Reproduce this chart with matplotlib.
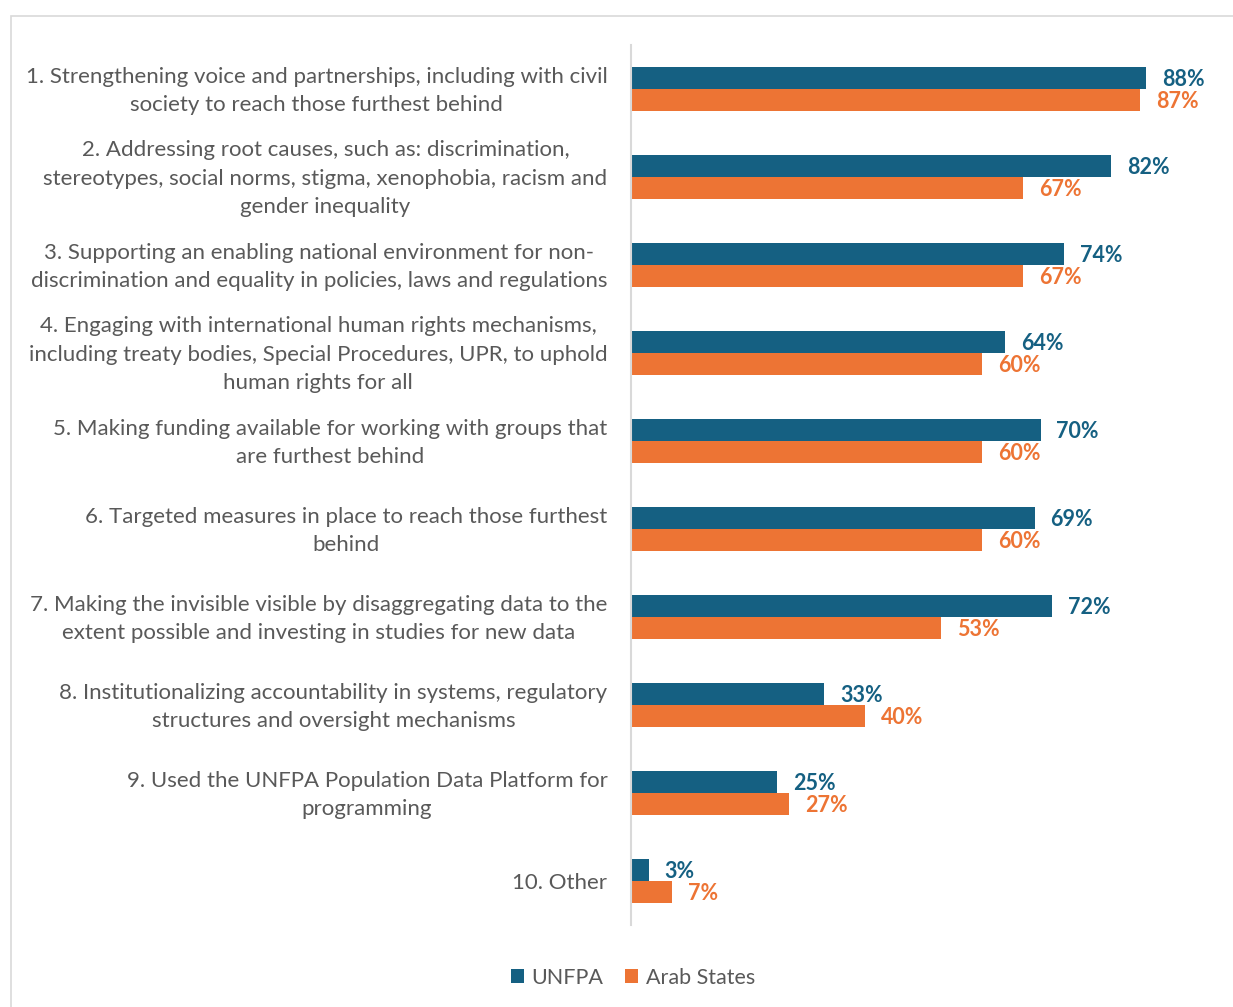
import matplotlib
matplotlib.use("Agg")
import matplotlib.pyplot as plt
from matplotlib.patches import Rectangle

categories = [
    "1. Strengthening voice and partnerships, including with civil\nsociety to reach those furthest behind",
    "2. Addressing root causes, such as: discrimination,\nstereotypes, social norms, stigma, xenophobia, racism and\ngender inequality",
    "3. Supporting an enabling national environment for non-\ndiscrimination and equality in policies, laws and regulations",
    "4. Engaging with international human rights mechanisms,\nincluding treaty bodies, Special Procedures, UPR, to uphold\nhuman rights for all",
    "5. Making funding available for working with groups that\nare furthest behind",
    "6. Targeted measures in place to reach those furthest\nbehind",
    "7. Making the invisible visible by disaggregating data to the\nextent possible and investing in studies for new data",
    "8. Institutionalizing accountability in systems, regulatory\nstructures and oversight mechanisms",
    "9. Used the UNFPA Population Data Platform for\nprogramming",
    "10. Other",
]
unfpa = [88, 82, 74, 64, 70, 69, 72, 33, 25, 3]
arab = [87, 67, 67, 60, 60, 60, 53, 40, 27, 7]
series_names = ["UNFPA", "Arab States"]

c_unfpa = "#156082"
c_arab = "#ED7434"
gray = "#595959"

plt.rcParams['font.family'] = ['Lato', 'DejaVu Sans']

W, H = 1233, 1007
fig = plt.figure(figsize=(W / 100, H / 100), dpi=100)

# figure border
fig.patches.append(Rectangle((11 / W, -0.01), 1.2, 1 - 16 / H + 0.01, transform=fig.transFigure,
                             fill=False, edgecolor="#D9D9D9", linewidth=1.2))

ax = fig.add_axes([631 / W, 1 - 925 / H, (1216 - 631) / W, (925 - 45) / H])
n = len(categories)
pos = list(range(n))
h = 0.25
ax.barh([p - h / 2 for p in pos], unfpa, height=h, color=c_unfpa, label=series_names[0])
ax.barh([p + h / 2 for p in pos], arab, height=h, color=c_arab, label=series_names[1])

ax.set_xlim(0, 100)
ax.set_ylim(n - 0.5, -0.5)
ax.set_xticks([])
ax.set_yticks([])
for s in ["top", "right", "bottom"]:
    ax.spines[s].set_visible(False)
ax.spines["left"].set_color("#D9D9D9")
ax.spines["left"].set_linewidth(1.5)

for p, u, a in zip(pos, unfpa, arab):
    ax.annotate(f"{u}%", (u, p - h / 2), xytext=(11.5, -1), textcoords="offset points",
                va="center", ha="left", color=c_unfpa, fontsize=15.5, fontweight="bold")
    ax.annotate(f"{a}%", (a, p + h / 2), xytext=(11.5, -1), textcoords="offset points",
                va="center", ha="left", color=c_arab, fontsize=15.5, fontweight="bold")
    ax.annotate(categories[p], (0, p), xytext=(-17, -1.2), textcoords="offset points",
                va="center", ha="right", multialignment="center", color=gray,
                fontsize=16, linespacing=1.52, annotation_clip=False)

leg = fig.legend(loc="center", bbox_to_anchor=(633 / W, 1 - 978 / H), ncol=2, frameon=False,
                 fontsize=15.5, handlelength=0.62, handleheight=0.62, handletextpad=0.35,
                 columnspacing=1.0)
for t in leg.get_texts():
    t.set_color(gray)

fig.savefig("out.png", dpi=100)
